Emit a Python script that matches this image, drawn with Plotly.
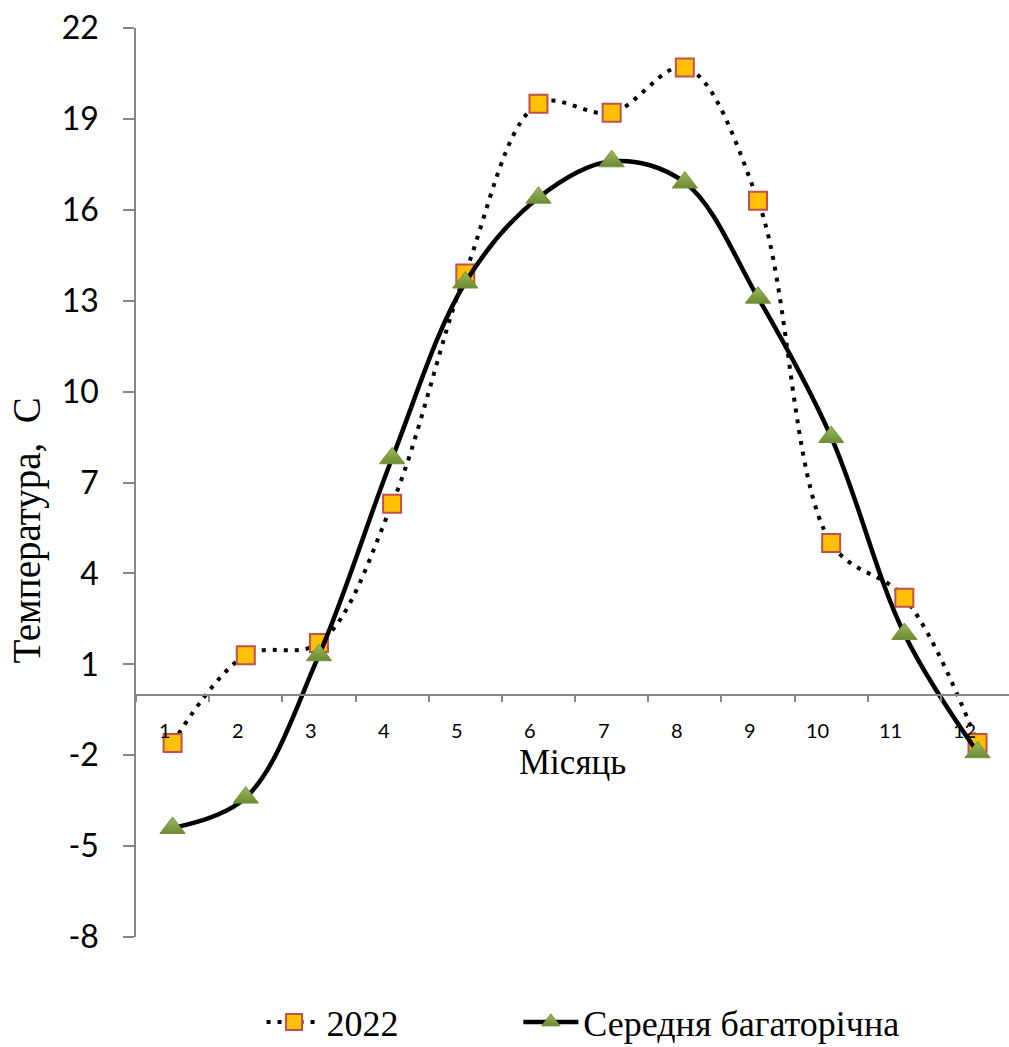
import plotly.graph_objects as go

months = list(range(1, 13))
month_labels = [str(m) for m in months]
t2022 = [-1.6, 1.3, 1.7, 6.3, 13.9, 19.5, 19.2, 20.7, 16.3, 5.0, 3.2, -1.6]
t_avg = [-4.4, -3.4, 1.3, 7.8, 13.6, 16.4, 17.6, 16.9, 13.1, 8.5, 2.0, -1.9]
y_ticks = list(range(-8, 23, 3))
y_tick_text = [str(v) for v in y_ticks]  # plain hyphen minus as in the original

serif = "Liberation Serif"
sans = "Lato"

fig = go.Figure()
fig.add_trace(go.Scatter(
    x=months, y=t2022, name="2022", mode="lines+markers", legend="legend",
    line=dict(color="black", width=4, dash="4px,7px", shape="spline", smoothing=1),
    marker=dict(symbol="square", size=18, color="#FFC000",
                line=dict(color="#C0504D", width=2)),
))
fig.add_trace(go.Scatter(
    x=months, y=t_avg, name="Середня багаторічна", mode="lines+markers",
    legend="legend2",
    line=dict(color="black", width=4.5, shape="spline", smoothing=1),
    marker=dict(symbol="triangle-up", size=22, color="#9BBB59",
                gradient=dict(type="vertical", color="#6B8A35"),
                line=dict(color="#76923C", width=1)),
))

ymin, ymax = -8, 22
fig.update_yaxes(
    range=[ymin, ymax], tickvals=y_ticks, ticktext=y_tick_text,
    ticks="outside", ticklen=11,
    tickcolor="#868686", tickwidth=1.5, showline=True, linecolor="#868686",
    linewidth=1.5, showgrid=False, zeroline=False,
    tickfont=dict(family=sans, size=32, color="black"), ticklabelstandoff=18,
)
fig.update_xaxes(
    range=[0.5, 12.43], tickvals=[m - 0.5 for m in months] + [12.5],
    showticklabels=False, ticks="outside", ticklen=7, tickcolor="#868686",
    tickwidth=1.5, showline=True, linecolor="#868686", linewidth=1.5,
    showgrid=False, zeroline=False, anchor="free",
    position=(0 - ymin) / (ymax - ymin),
)

annotations = []
for m, lab in zip(months, month_labels):
    annotations.append(dict(
        x=m, y=0, xref="x", yref="y", text=lab, showarrow=False,
        xanchor="right", yanchor="middle", yshift=-35,
        font=dict(family=sans, size=20, color="black"),
    ))
annotations.append(dict(
    x=0.5, y=0, xref="paper", yref="y", text="Місяць", showarrow=False,
    xanchor="center", yanchor="middle", yshift=-68,
    font=dict(family=serif, size=35, color="black"),
))
annotations.append(dict(
    x=-0.125, y=0.447, xref="paper", yref="paper", text="Температура,  С",
    showarrow=False, textangle=-90, xanchor="center", yanchor="middle",
    font=dict(family=serif, size=39, color="black"),
))

legend_common = dict(orientation="h", xanchor="left", yanchor="middle",
                     itemwidth=55,
                     font=dict(family=serif, size=36, color="black"),
                     bgcolor="rgba(0,0,0,0)")

fig.update_layout(
    width=1009, height=1047,
    margin=dict(l=136, r=0, t=28, b=110, autoexpand=False),
    paper_bgcolor="white", plot_bgcolor="white",
    showlegend=True,
    legend=dict(x=0.1438, y=-0.0935, **legend_common),
    legend2=dict(x=0.4380, y=-0.0935, **legend_common),
    annotations=annotations,
)

fig.write_html("out.html")
